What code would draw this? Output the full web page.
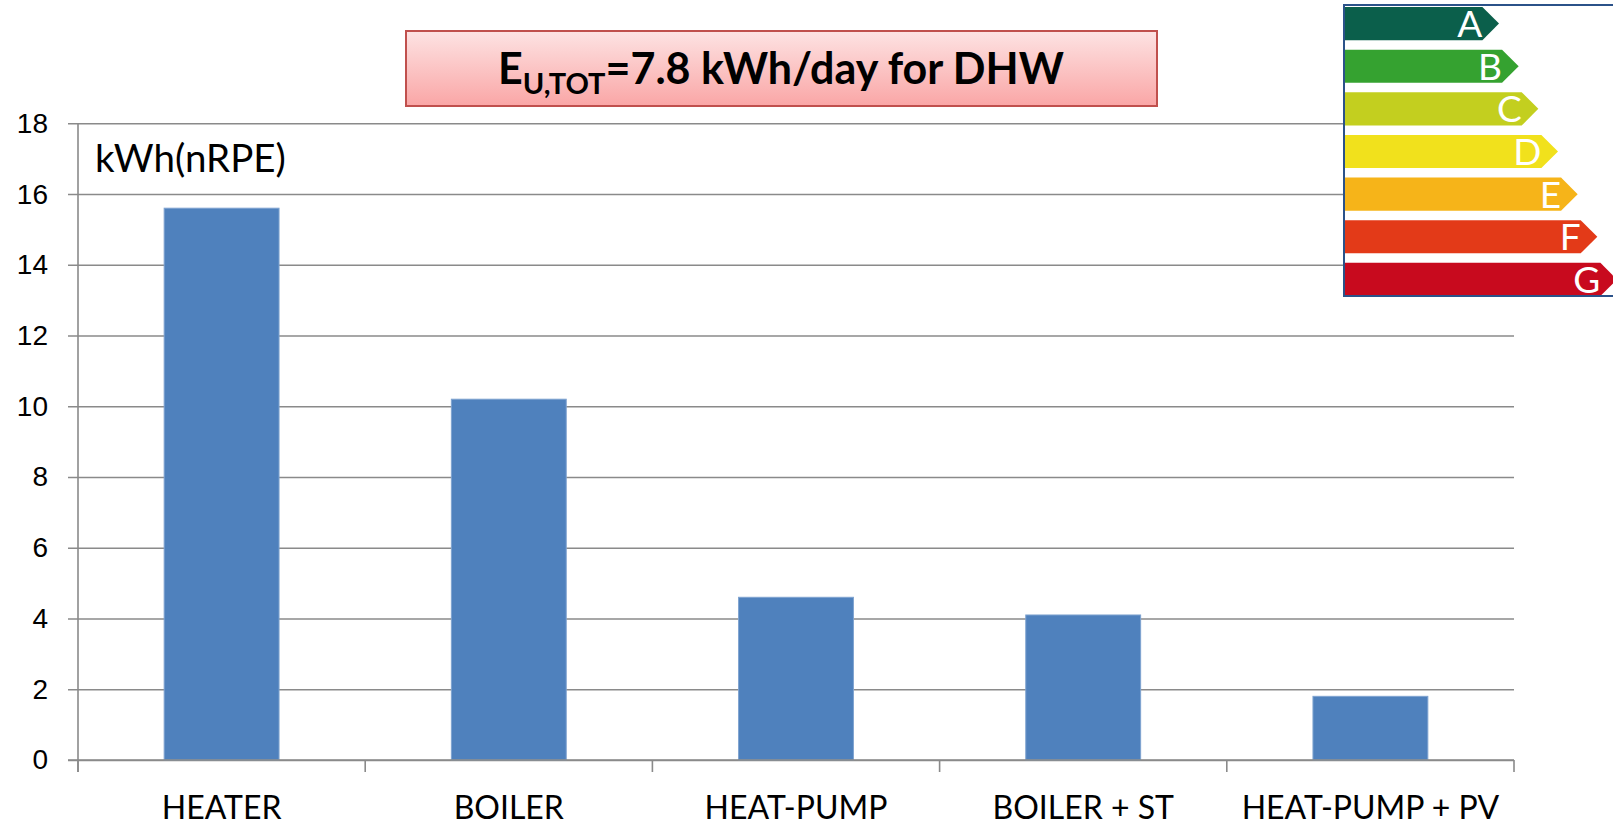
<!DOCTYPE html>
<html>
<head>
<meta charset="utf-8">
<script src="https://cdn.jsdelivr.net/npm/d3@7"></script>
<style>
  body { margin: 0; background: #fff; }
  svg { display: block; font-family: Lato, 'Open Sans', sans-serif; }
</style>
</head>
<body>
<script>
'use strict';

// chart data
const categories = ['HEATER', 'BOILER', 'HEAT-PUMP', 'BOILER + ST', 'HEAT-PUMP + PV'];
const values = [15.6, 10.2, 4.6, 4.1, 1.8];
const yTicks = [0, 2, 4, 6, 8, 10, 12, 14, 16, 18];
const unitLabel = 'kWh(nRPE)';

// energy class label
const classLetters = ['A', 'B', 'C', 'D', 'E', 'F', 'G'];
const classColors = ['#0b5f4b', '#35a230', '#c3cf1f', '#f1e11c', '#f6b419', '#e33a18', '#c80a1e'];

(function() {
  let svg = '';

  window.onload = function() {
    svg = d3
      .select('body')
      .append('svg')
      .attr('width', 1613)
      .attr('height', 825);

    const map = drawAxes({ min: 78, max: 1514 }, { min: 123.3, max: 760 });
    plotData(map);
    makeLabels();
    makeTitle();
    makeEnergyLabel();
  };

  // axes, gridlines and tick labels
  function drawAxes(rangeX, rangeY) {
    const xScale = d3
      .scaleBand()
      .domain(categories)
      .range([rangeX.min, rangeX.max])
      .paddingInner(0.6)
      .paddingOuter(0.3);

    const yScale = d3
      .scaleLinear()
      .domain([0, 18])
      .range([rangeY.max, rangeY.min]);

    // horizontal gridlines + left ticks
    const yAxis = d3
      .axisLeft(yScale)
      .tickValues(yTicks)
      .tickSize(-(rangeX.max - rangeX.min))
      .tickSizeOuter(0)
      .tickPadding(20);

    const gy = svg
      .append('g')
      .attr('transform', 'translate(' + rangeX.min + ', 0)')
      .call(yAxis);
    gy.select('.domain').remove();
    gy.selectAll('.tick line')
      .attr('x1', -10)
      .attr('stroke', '#8a8a8a')
      .attr('stroke-width', 1.6);
    gy.selectAll('.tick text')
      .attr('fill', '#000')
      .style('font-size', '28px')
      .attr('x', -30);

    // y axis line
    svg
      .append('line')
      .attr('x1', rangeX.min)
      .attr('x2', rangeX.min)
      .attr('y1', rangeY.min)
      .attr('y2', rangeY.max + 12)
      .attr('stroke', '#8a8a8a')
      .attr('stroke-width', 1.6);

    // category separators on the x axis
    const step = xScale.step();
    const bounds = d3.range(categories.length + 1).map(i => rangeX.min + i * step);
    svg
      .selectAll('.xsep')
      .data(bounds)
      .enter()
      .append('line')
      .attr('class', 'xsep')
      .attr('x1', d => d)
      .attr('x2', d => d)
      .attr('y1', rangeY.max)
      .attr('y2', rangeY.max + 12)
      .attr('stroke', '#8a8a8a')
      .attr('stroke-width', 1.6);

    // category labels
    svg
      .selectAll('.xlabel')
      .data(categories)
      .enter()
      .append('text')
      .attr('class', 'xlabel')
      .attr('x', d => xScale(d) + xScale.bandwidth() / 2)
      .attr('y', 819)
      .attr('text-anchor', 'middle')
      .style('font-size', '32px')
      .text(d => d);

    return { xScale: xScale, yScale: yScale, rangeX: rangeX, rangeY: rangeY };
  }

  // draw bars
  function plotData(map) {
    const rows = categories.map((c, i) => ({ cat: c, val: values[i] }));
    svg
      .selectAll('.bar')
      .data(rows)
      .enter()
      .append('rect')
      .attr('class', 'bar')
      .attr('x', d => map.xScale(d.cat))
      .attr('width', map.xScale.bandwidth())
      .attr('y', d => map.yScale(d.val))
      .attr('height', d => map.yScale(0) - map.yScale(d.val))
      .attr('fill', '#4f81bd')
      .attr('stroke', '#7fa3d0')
      .attr('stroke-width', 1);

    // redraw x axis baseline on top of bars
    svg
      .append('line')
      .attr('x1', map.rangeX.min - 10)
      .attr('x2', map.rangeX.max)
      .attr('y1', map.rangeY.max)
      .attr('y2', map.rangeY.max)
      .attr('stroke', '#8a8a8a')
      .attr('stroke-width', 1.6);
  }

  // unit label inside the plot
  function makeLabels() {
    svg
      .append('text')
      .attr('x', 95)
      .attr('y', 172)
      .style('font-size', '38.5px')
      .text(unitLabel);
  }

  // pink title box
  function makeTitle() {
    const defs = svg.append('defs');
    const grad = defs
      .append('linearGradient')
      .attr('id', 'titleFill')
      .attr('x1', 0)
      .attr('y1', 0)
      .attr('x2', 0)
      .attr('y2', 1);
    grad.append('stop').attr('offset', '0%').attr('stop-color', '#fde3e3');
    grad.append('stop').attr('offset', '100%').attr('stop-color', '#faa6a6');

    svg
      .append('rect')
      .attr('x', 406)
      .attr('y', 31)
      .attr('width', 751)
      .attr('height', 75)
      .attr('fill', 'url(#titleFill)')
      .attr('stroke', '#c0504d')
      .attr('stroke-width', 2);

    const title = svg
      .append('text')
      .attr('x', 781)
      .attr('y', 84)
      .attr('text-anchor', 'middle')
      .style('font-size', '43px')
      .style('font-weight', 'bold');
    title.append('tspan').text('E');
    title
      .append('tspan')
      .attr('dy', 10)
      .style('font-size', '29px')
      .text('U,TOT');
    title
      .append('tspan')
      .attr('dy', -10)
      .text('=7.8 kWh/day for DHW');
  }

  // energy efficiency class arrows
  function makeEnergyLabel() {
    const yScale = d3
      .scaleBand()
      .domain(classLetters)
      .range([7, 296])
      .paddingInner(0.22)
      .paddingOuter(0);
    const tipScale = d3
      .scaleLinear()
      .domain([0, classLetters.length - 1])
      .range([1499, 1617]);
    const left = 1345;
    const h = yScale.bandwidth();

    const g = svg.append('g');
    g.selectAll('.arrow')
      .data(classLetters)
      .enter()
      .append('path')
      .attr('class', 'arrow')
      .attr('fill', (d, i) => classColors[i])
      .attr('d', (d, i) => {
        const y0 = yScale(d);
        const tip = tipScale(i);
        const body = tip - h / 2;
        return 'M' + left + ',' + y0 + 'H' + body + 'L' + tip + ',' + (y0 + h / 2) +
          'L' + body + ',' + (y0 + h) + 'H' + left + 'Z';
      });

    g.selectAll('.letter')
      .data(classLetters)
      .enter()
      .append('text')
      .attr('class', 'letter')
      .attr('x', (d, i) => tipScale(i) - h / 2)
      .attr('y', d => yScale(d) + h / 2 + 13.5)
      .attr('text-anchor', 'end')
      .attr('fill', '#fff')
      .style('font-size', '37px')
      .text(d => d);

    // frame
    g.append('path')
      .attr('d', 'M1625,5H1344V296H1625')
      .attr('fill', 'none')
      .attr('stroke', '#2b5289')
      .attr('stroke-width', 2);
  }
})();
</script>
</body>
</html>
